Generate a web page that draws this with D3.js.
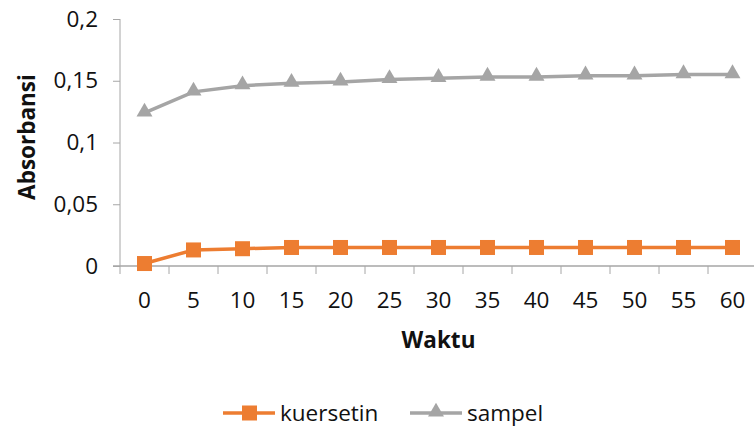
<!DOCTYPE html>
<html>
<head>
<meta charset="utf-8">
<script src="https://cdn.jsdelivr.net/npm/d3@7"></script>
<style>
  body { margin: 0; background: #fff; }
  text { font-family: "Open Sans", "Noto Sans", sans-serif; fill: #111; }
</style>
</head>
<body>
<div id="chart"></div>
<script>
// Data
const waktu = ["0", "5", "10", "15", "20", "25", "30", "35", "40", "45", "50", "55", "60"];
const kuersetin = [0.002, 0.013, 0.014, 0.015, 0.015, 0.015, 0.015, 0.015, 0.015, 0.015, 0.015, 0.015, 0.015];
const sampel = [0.124, 0.141, 0.146, 0.148, 0.149, 0.151, 0.152, 0.153, 0.153, 0.154, 0.154, 0.155, 0.155];
const yTicks = [0, 0.05, 0.1, 0.15, 0.2];
const yTickLabels = ["0", "0,05", "0,1", "0,15", "0,2"];

const series = [
    { name: "kuersetin", values: kuersetin, color: "#ED7D31", marker: "square" },
    { name: "sampel", values: sampel, color: "#A5A5A5", marker: "triangle" }
];

// Dimensions
const width = 754;
const height = 428;
const margin = { top: 19, right: -3, bottom: 162, left: 120 };
const fontSize = "22.5px";

const svg = d3.select("#chart")
    .append("svg")
    .attr("width", width)
    .attr("height", height);

// Scales
const xScale = d3.scaleBand()
    .domain(waktu)
    .range([margin.left, width - margin.right]);

const yScale = d3.scaleLinear()
    .domain([0, 0.2])
    .range([height - margin.bottom, margin.top]);

const axisColor = "#a6a6a6";

// Y axis
const yAxis = svg.append("g")
    .attr("transform", `translate(${margin.left},0)`)
    .call(d3.axisLeft(yScale).tickValues(yTicks).tickSize(7).tickPadding(15)
        .tickFormat((d, i) => yTickLabels[i]));
yAxis.selectAll("text").style("font-size", fontSize).attr("fill", "#111");
yAxis.selectAll("line").attr("stroke", axisColor);
yAxis.select(".domain").attr("stroke", axisColor).attr("d", `M0,${yScale(0)}V${yScale(0.2)}`);

// X axis
const xAxis = svg.append("g")
    .attr("transform", `translate(0,${yScale(0)})`)
    .call(d3.axisBottom(xScale).tickSize(0).tickPadding(26));
xAxis.selectAll("text").style("font-size", fontSize).attr("fill", "#111");
xAxis.select(".domain").attr("stroke", axisColor).attr("stroke-width", 1.5)
    .attr("d", `M${margin.left - 7},0H${width}`);

// tick marks between categories
svg.append("g")
    .selectAll("line")
    .data(waktu)
    .enter()
    .append("line")
    .attr("x1", d => xScale(d))
    .attr("x2", d => xScale(d))
    .attr("y1", yScale(0))
    .attr("y2", yScale(0) + 8)
    .attr("stroke", axisColor);

// Lines
const line = d3.line()
    .x((d, i) => xScale(waktu[i]) + xScale.bandwidth() / 2)
    .y(d => yScale(d));

const triangle = d3.symbol().type(d3.symbolTriangle).size(110);

series.forEach(s => {
    svg.append("path")
        .datum(s.values)
        .attr("fill", "none")
        .attr("stroke", s.color)
        .attr("stroke-width", 3.5)
        .attr("d", line);

    const g = svg.append("g");
    if (s.marker === "square") {
        g.selectAll("rect")
            .data(s.values)
            .enter()
            .append("rect")
            .attr("x", (d, i) => xScale(waktu[i]) + xScale.bandwidth() / 2 - 7.5)
            .attr("y", d => yScale(d) - 7.5)
            .attr("width", 15)
            .attr("height", 15)
            .attr("fill", s.color);
    } else {
        g.selectAll("path")
            .data(s.values)
            .enter()
            .append("path")
            .attr("d", triangle)
            .attr("transform", (d, i) => `translate(${xScale(waktu[i]) + xScale.bandwidth() / 2},${yScale(d) - 1})`)
            .attr("fill", s.color);
    }
});

// Axis titles
svg.append("text")
    .attr("x", (xScale.range()[0] + xScale.range()[1]) / 2)
    .attr("y", 340)
    .attr("dy", "0.35em")
    .attr("text-anchor", "middle")
    .style("font-size", fontSize)
    .style("font-weight", "bold")
    .text("Waktu");

svg.append("text")
    .attr("transform", `translate(27,137) rotate(-90)`)
    .attr("dy", "0.35em")
    .attr("text-anchor", "middle")
    .style("font-size", fontSize)
    .style("font-weight", "bold")
    .text("Absorbansi");

// Legend
const legendX = [223, 410];
const legend = svg.append("g");
series.forEach((s, i) => {
    const lg = legend.append("g").attr("transform", `translate(${legendX[i]},413)`);
    lg.append("line")
        .attr("x1", 0).attr("x2", 52)
        .attr("stroke", s.color).attr("stroke-width", 3.5);
    if (s.marker === "square") {
        lg.append("rect").attr("x", 19).attr("y", -7.5).attr("width", 15).attr("height", 15).attr("fill", s.color);
    } else {
        lg.append("path").attr("d", triangle).attr("transform", "translate(26,-1)").attr("fill", s.color);
    }
    lg.append("text")
        .attr("x", 57)
        .attr("dy", "0.35em")
        .style("font-size", fontSize)
        .text(s.name);
});
</script>
</body>
</html>
